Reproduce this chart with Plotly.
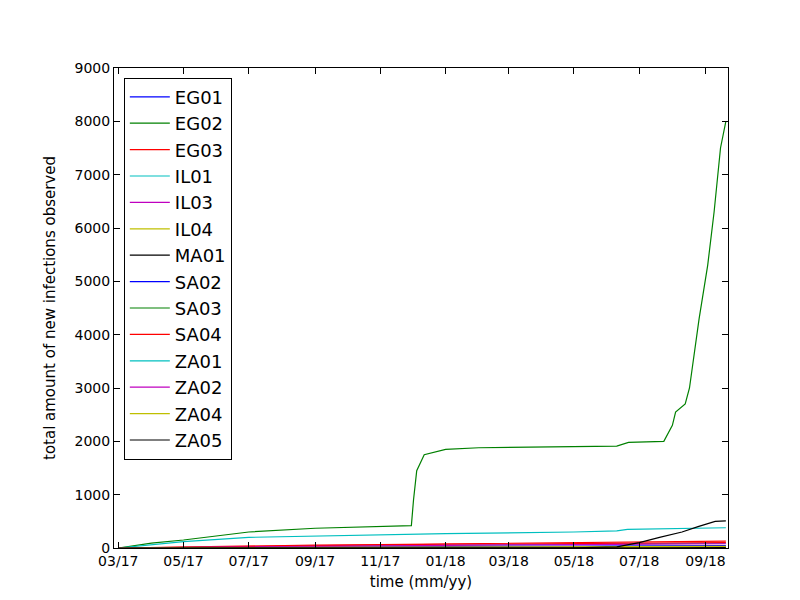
import plotly.graph_objects as go

# common sample dates for the low-count series
dates = ['2017-03-01', '2017-05-01', '2017-07-01', '2017-09-01', '2017-11-01',
         '2018-01-01', '2018-03-01', '2018-05-01', '2018-07-01', '2018-09-20']

eg01 = [0, 5, 10, 12, 14, 15, 16, 18, 20, 22]
eg02 = [0, 3, 5, 7, 8, 9, 10, 11, 12, 13]
eg03 = [0, 20, 40, 55, 65, 75, 85, 95, 110, 130]
il01 = [0, 10, 20, 30, 40, 50, 60, 70, 80, 90]
il03 = [0, 2, 4, 6, 8, 10, 12, 14, 16, 18]
il04 = [0, 1, 2, 3, 4, 5, 6, 7, 8, 10]
ma01 = [0, 1, 2, 3, 3, 4, 4, 5, 5, 6]
sa02 = [0, 5, 10, 15, 20, 25, 30, 35, 40, 45]
sa04 = [0, 15, 30, 50, 60, 70, 75, 80, 90, 100]
za02 = [0, 10, 25, 40, 50, 55, 60, 65, 70, 80]
za04 = [0, 3, 6, 9, 12, 15, 18, 21, 25, 30]

sa03_dates = ['2017-03-01', '2017-04-01', '2017-05-01', '2017-06-01', '2017-07-01', '2017-09-01',
              '2017-11-01', '2017-11-30', '2017-12-02', '2017-12-05', '2017-12-12', '2018-01-01',
              '2018-02-01', '2018-05-01', '2018-06-10', '2018-06-21', '2018-07-24', '2018-08-01',
              '2018-08-04', '2018-08-13', '2018-08-17', '2018-08-26', '2018-09-03', '2018-09-09',
              '2018-09-15', '2018-09-20']
sa03 = [0, 90, 150, 230, 300, 370, 400, 420, 900, 1450, 1750, 1850,
        1880, 1900, 1910, 1980, 2000, 2300, 2550, 2700, 3000, 4300, 5300, 6300,
        7500, 8000]

za01_dates = ['2017-03-01', '2017-04-01', '2017-05-01', '2017-07-01', '2017-11-01', '2018-01-01',
              '2018-05-01', '2018-06-10', '2018-06-20', '2018-09-20']
za01 = [0, 60, 120, 200, 250, 270, 300, 320, 350, 380]

za05_dates = ['2017-03-01', '2018-05-01', '2018-06-10', '2018-07-01', '2018-07-20',
              '2018-08-10', '2018-08-25', '2018-09-10', '2018-09-20']
za05 = [0, 5, 20, 100, 200, 300, 400, 500, 510]

colors = ['#0000ff', '#008000', '#ff0000', '#00bfbf', '#bf00bf', '#bfbf00', '#000000']

series = [('EG01', dates, eg01), ('EG02', dates, eg02), ('EG03', dates, eg03),
          ('IL01', dates, il01), ('IL03', dates, il03), ('IL04', dates, il04),
          ('MA01', dates, ma01), ('SA02', dates, sa02), ('SA03', sa03_dates, sa03),
          ('SA04', dates, sa04), ('ZA01', za01_dates, za01), ('ZA02', dates, za02),
          ('ZA04', dates, za04), ('ZA05', za05_dates, za05)]

fig = go.Figure()
for i, (name, x, y) in enumerate(series):
    fig.add_trace(go.Scatter(x=x, y=y, name=name, mode='lines',
                             line=dict(color=colors[i % 7], width=1.2)))

tickvals = ['2017-03-01', '2017-05-01', '2017-07-01', '2017-09-01', '2017-11-01',
            '2018-01-01', '2018-03-01', '2018-05-01', '2018-07-01', '2018-09-01']

axis = dict(showgrid=False, zeroline=False, showline=True, mirror='ticks', linecolor='black',
            linewidth=1, ticks='inside', ticklen=6, tickcolor='black', automargin=False,
            tickfont=dict(size=14, color='black'))
fig.update_layout(
    width=800, height=600, plot_bgcolor='white', paper_bgcolor='white',
    margin=dict(l=106, r=80, t=60, b=60),
    font=dict(family='DejaVu Sans', color='black'),
    xaxis=dict(axis, range=['2017-02-25', '2018-09-22'], tickvals=tickvals, tickformat='%m/%y',
               title=dict(text='time (mm/yy)', font=dict(size=15), standoff=8)),
    yaxis=dict(axis, range=[0, 9000], dtick=1000,
               title=dict(text='total amount of new infections observed', font=dict(size=15))),
    legend=dict(x=0.016, y=0.98, xanchor='left', yanchor='top', bordercolor='black', borderwidth=1,
                bgcolor='white', font=dict(size=18), tracegroupgap=0, itemwidth=40),
)

fig.write_html("out.html")
